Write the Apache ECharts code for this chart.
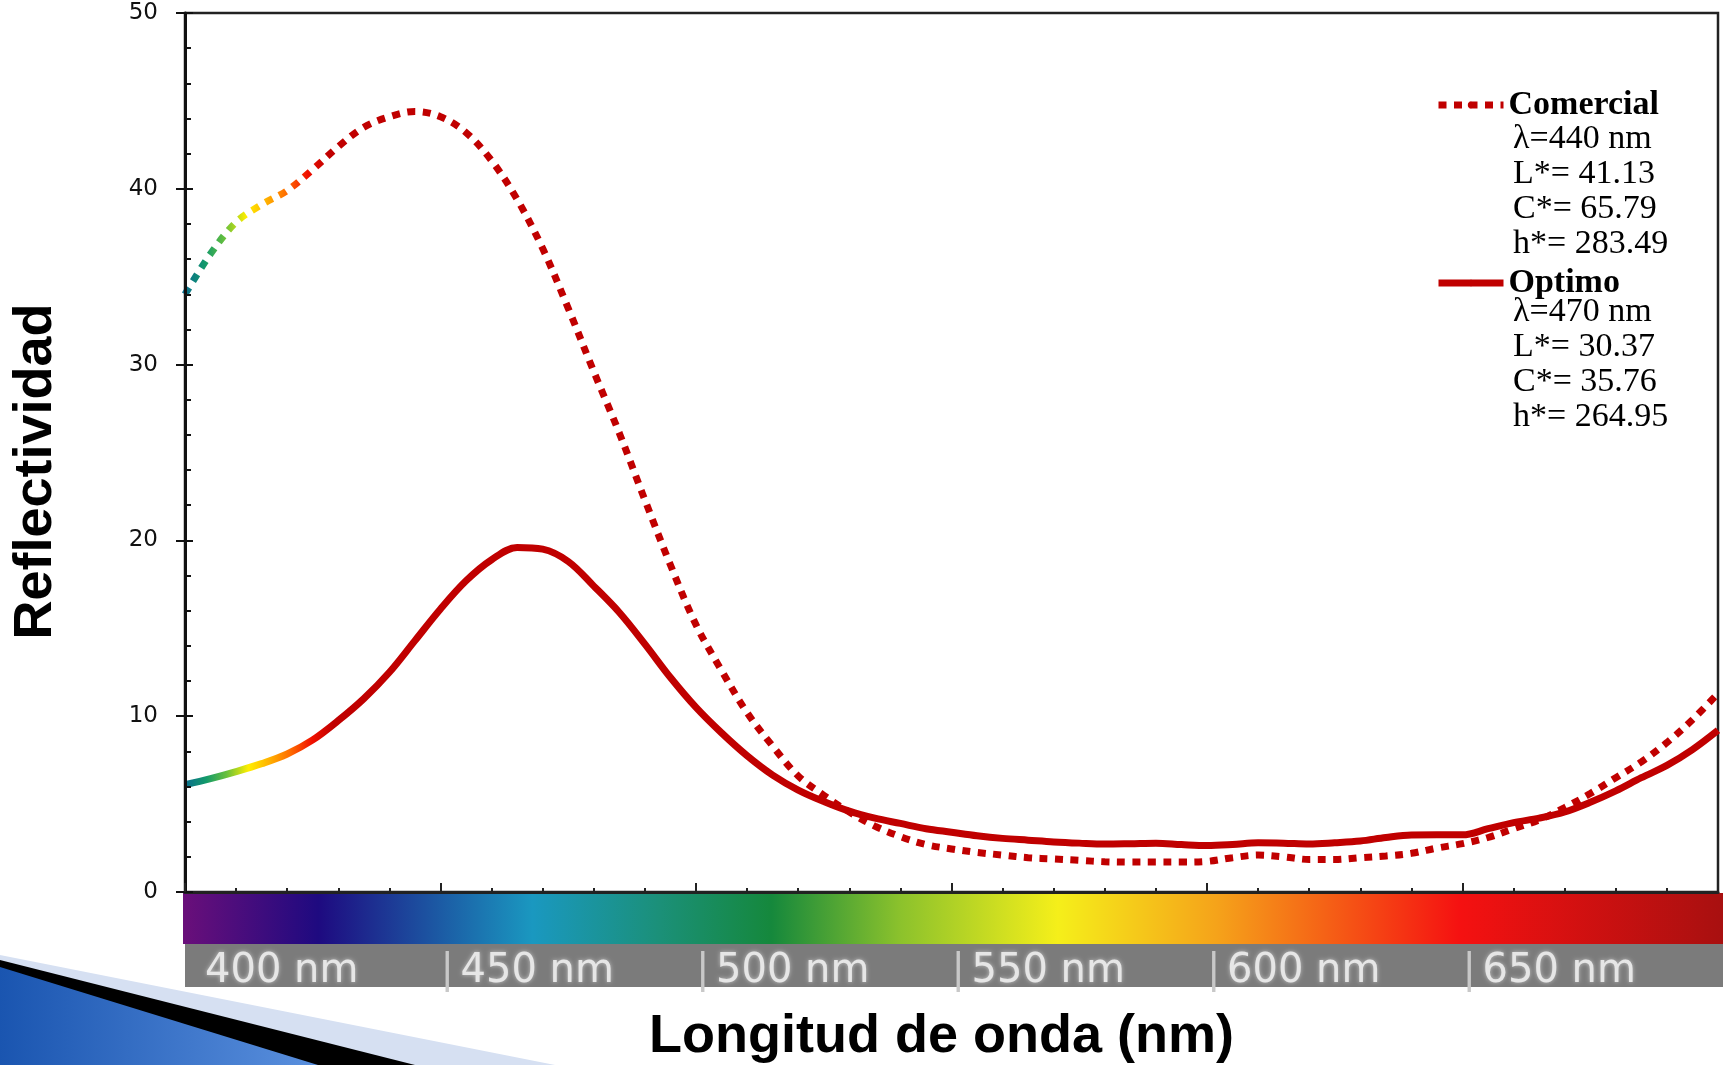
<!DOCTYPE html>
<html>
<head>
<meta charset="utf-8">
<title>Reflectividad</title>
<script src="https://cdn.jsdelivr.net/npm/echarts@6.0.0/dist/echarts.min.js"></script>
<style>
  html, body { margin: 0; padding: 0; background: #fff; }
  #chart { width: 1727px; height: 1065px; }
</style>
</head>
<body>
<div id="chart"></div>
<script>
// wavelength (nm) sampled every 5 nm
const wavelengths = [
  400, 405, 410, 415, 420, 425, 430, 435, 440, 445,
  450, 455, 460, 465, 470, 475, 480, 485, 490, 495,
  500, 505, 510, 515, 520, 525, 530, 535, 540, 545,
  550, 555, 560, 565, 570, 575, 580, 585, 590, 595,
  600, 605, 610, 615, 620, 625, 630, 635, 640, 645,
  650, 655, 660, 665, 670, 675, 680, 685, 690, 695, 700
]

// reflectivity
const comercial = [
  34.0, 36.3, 38.1, 39.1, 39.9, 41.1, 42.4, 43.5, 44.1, 44.4,
  44.1, 43.2, 41.6, 39.4, 36.6, 33.2, 29.6, 26.1, 22.3, 18.6,
  15.2, 12.6, 10.2, 8.3, 6.6, 5.5, 4.55, 3.75, 3.15, 2.7,
  2.45, 2.25, 2.1, 1.95, 1.88, 1.8, 1.72, 1.7, 1.7, 1.7,
  1.74, 1.95, 2.1, 2.0, 1.85, 1.85, 1.95, 2.05, 2.2, 2.5,
  2.75, 3.1, 3.6, 4.1, 4.8, 5.6, 6.5, 7.4, 8.5, 9.8, 11.3
]

const optimo = [
  6.1, 6.45, 6.85, 7.3, 7.85, 8.65, 9.75, 11.0, 12.5, 14.3,
  16.1, 17.7, 18.9, 19.6, 19.5, 18.8, 17.4, 15.9, 14.1, 12.2,
  10.5, 9.05, 7.75, 6.65, 5.8, 5.15, 4.6, 4.2, 3.9, 3.6,
  3.4, 3.2, 3.05, 2.95, 2.85, 2.78, 2.73, 2.75, 2.78, 2.7,
  2.64, 2.7, 2.8, 2.78, 2.73, 2.8, 2.9, 3.1, 3.24, 3.25,
  3.25, 3.6, 3.95, 4.2, 4.55, 5.1, 5.75, 6.5, 7.2, 8.1, 9.2
]

const seriesNames = ['Comercial', 'Optimo']
const comercialStats = ['λ=440 nm', 'L*= 41.13', 'C*= 65.79', 'h*= 283.49']
const optimoStats = ['λ=470 nm', 'L*= 30.37', 'C*= 35.76', 'h*= 264.95']

const lineRed = '#c00000'
// colour run at the short-wavelength start of both curves
const leadColors = ['#0a6e8e', '#139a6a', '#6cc23a', '#ffee00', '#ffb000', '#ff6a00', '#f01000', '#c00000']

const chart = echarts.init(document.getElementById('chart'))

const toPairs = (ys) => wavelengths.map((x, i) => [x, ys[i]])

const spectrum = new echarts.graphic.LinearGradient(0, 0, 1, 0, [
  { offset: 0, color: '#6a0f7a' },
  { offset: 0.088, color: '#1e0a80' },
  { offset: 0.227, color: '#1a98c0' },
  { offset: 0.31, color: '#1b9078' },
  { offset: 0.382, color: '#15883c' },
  { offset: 0.466, color: '#8cc22c' },
  { offset: 0.568, color: '#f5ef1a' },
  { offset: 0.671, color: '#f5a31a' },
  { offset: 0.829, color: '#f51111' },
  { offset: 1, color: '#a81010' }
])

const blueCorner = new echarts.graphic.LinearGradient(0, 0, 1, 0, [
  { offset: 0, color: '#1a55b0' },
  { offset: 1, color: '#5a90de' }
])

const statsFont = '34px "Liberation Serif", serif'

const option = {
  backgroundColor: '#fff',
  animation: false,
  color: [lineRed, lineRed],
  grid: {
    left: 185,
    right: 9,
    top: 13,
    bottom: 173,
    containLabel: false,
    outerBoundsMode: 'none',
    show: true,
    borderColor: '#222',
    borderWidth: 2.5,
    backgroundColor: 'transparent'
  },
  legend: {
    data: seriesNames,
    orient: 'vertical',
    left: 1435,
    top: 88,
    padding: 0,
    itemWidth: 65,
    itemHeight: 8,
    itemGap: 144,
    selectedMode: false,
    itemStyle: { color: lineRed },
    lineStyle: { width: 7, color: lineRed },
    textStyle: {
      fontFamily: '"Liberation Serif", serif',
      fontWeight: 'bold',
      fontSize: 34,
      lineHeight: 32,
      color: '#000'
    }
  },
  visualMap: [
    { type: 'continuous', show: false, seriesIndex: 0, dimension: 0, min: 400, max: 428, inRange: { color: leadColors } },
    { type: 'continuous', show: false, seriesIndex: 1, dimension: 0, min: 400, max: 429, inRange: { color: leadColors } }
  ],
  xAxis: {
    type: 'value',
    min: 400,
    max: 700,
    interval: 50,
    z: 10,
    name: 'Longitud de onda (nm)',
    nameLocation: 'middle',
    nameGap: 118,
    nameTextStyle: {
      fontFamily: '"Liberation Sans", Arial, sans-serif',
      fontWeight: 'bold',
      fontSize: 54,
      color: '#000',
      padding: [0, 20, 0, 0]
    },
    axisLine: { lineStyle: { color: '#222', width: 3 } },
    axisTick: { inside: true, length: 9, lineStyle: { color: '#222', width: 2 } },
    minorTick: { show: true, splitNumber: 5, length: 4, lineStyle: { color: '#222', width: 2 } },
    splitLine: { show: false },
    axisLabel: {
      align: 'left',
      verticalAlign: 'middle',
      margin: 80,
      showMaxLabel: false,
      formatter: function (v) {
        if (v === 700) return ''
        return (v === 400 ? '{nobar||}' : '{bar||}') + '{t|' + v + ' nm}'
      },
      rich: {
        bar: { width: 20, align: 'left', fontFamily: '"DejaVu Sans", sans-serif', fontSize: 40, color: '#c8c8c8' },
        nobar: { width: 20, align: 'left', fontFamily: '"DejaVu Sans", sans-serif', fontSize: 40, color: 'transparent' },
        t: {
          fontFamily: '"DejaVu Sans", sans-serif',
          fontSize: 40,
          color: '#e6e6e6',
          textShadowColor: 'rgba(255,255,255,0.55)',
          textShadowBlur: 4
        }
      }
    }
  },
  yAxis: [
    {
      type: 'value',
      min: 0,
      max: 50,
      interval: 10,
      z: 10,
      name: 'Reflectividad',
      nameLocation: 'middle',
      nameGap: 122,
      nameTextStyle: {
        fontFamily: '"Liberation Sans", Arial, sans-serif',
        fontWeight: 'bold',
        fontSize: 54,
        color: '#000',
        padding: [0, 38, 0, 0]
      },
      axisLine: { show: true, lineStyle: { color: '#111', width: 3 } },
      axisTick: { inside: true, length: 8, lineStyle: { color: '#111', width: 2 } },
      minorTick: { show: true, splitNumber: 5, length: 6, lineStyle: { color: '#111', width: 2 } },
      splitLine: { show: false },
      axisLabel: {
        margin: 27,
        fontFamily: '"DejaVu Sans", sans-serif',
        fontSize: 23,
        color: '#111'
      }
    },
    {
      // outward half of the major ticks
      type: 'value',
      min: 0,
      max: 50,
      interval: 10,
      position: 'left',
      z: 10,
      axisLine: { show: false },
      axisTick: { show: true, inside: false, length: 9, lineStyle: { color: '#111', width: 2 } },
      axisLabel: { show: false },
      splitLine: { show: false }
    }
  ],
  series: [
    {
      name: seriesNames[0],
      type: 'line',
      data: toPairs(comercial),
      smooth: 0.35,
      symbol: 'none',
      z: 5,
      lineStyle: { width: 7, type: [8, 7.5], cap: 'butt' }
    },
    {
      name: seriesNames[1],
      type: 'line',
      data: toPairs(optimo),
      smooth: 0.35,
      symbol: 'none',
      z: 5,
      lineStyle: { width: 7 }
    }
  ],
  graphic: [
    // slide template corner
    { type: 'polygon', z: 1, silent: true, shape: { points: [[0, 955], [555, 1065], [0, 1065]] }, style: { fill: '#d6e0f2' } },
    { type: 'polygon', z: 1, silent: true, shape: { points: [[0, 960], [415, 1065], [0, 1065]] }, style: { fill: '#000' } },
    { type: 'polygon', z: 1, silent: true, shape: { points: [[0, 967], [318, 1065], [0, 1065]] }, style: { fill: blueCorner } },
    // visible spectrum strip and its label band
    { type: 'rect', z: 1, silent: true, shape: { x: 183, y: 893, width: 1540, height: 51 }, style: { fill: spectrum } },
    { type: 'rect', z: 1, silent: true, shape: { x: 185, y: 944, width: 1538, height: 43 }, style: { fill: '#7b7b7b' } },
    // legend details
    {
      type: 'text', z: 12, silent: true, x: 1513, y: 122,
      style: { text: comercialStats.join('\n'), font: statsFont, lineHeight: 34.9, fill: '#000', verticalAlign: 'top' }
    },
    {
      type: 'text', z: 12, silent: true, x: 1513, y: 295,
      style: { text: optimoStats.join('\n'), font: statsFont, lineHeight: 34.9, fill: '#000', verticalAlign: 'top' }
    }
  ]
}

chart.setOption(option)

window.addEventListener('resize', () => chart.resize())
</script>
</body>
</html>
